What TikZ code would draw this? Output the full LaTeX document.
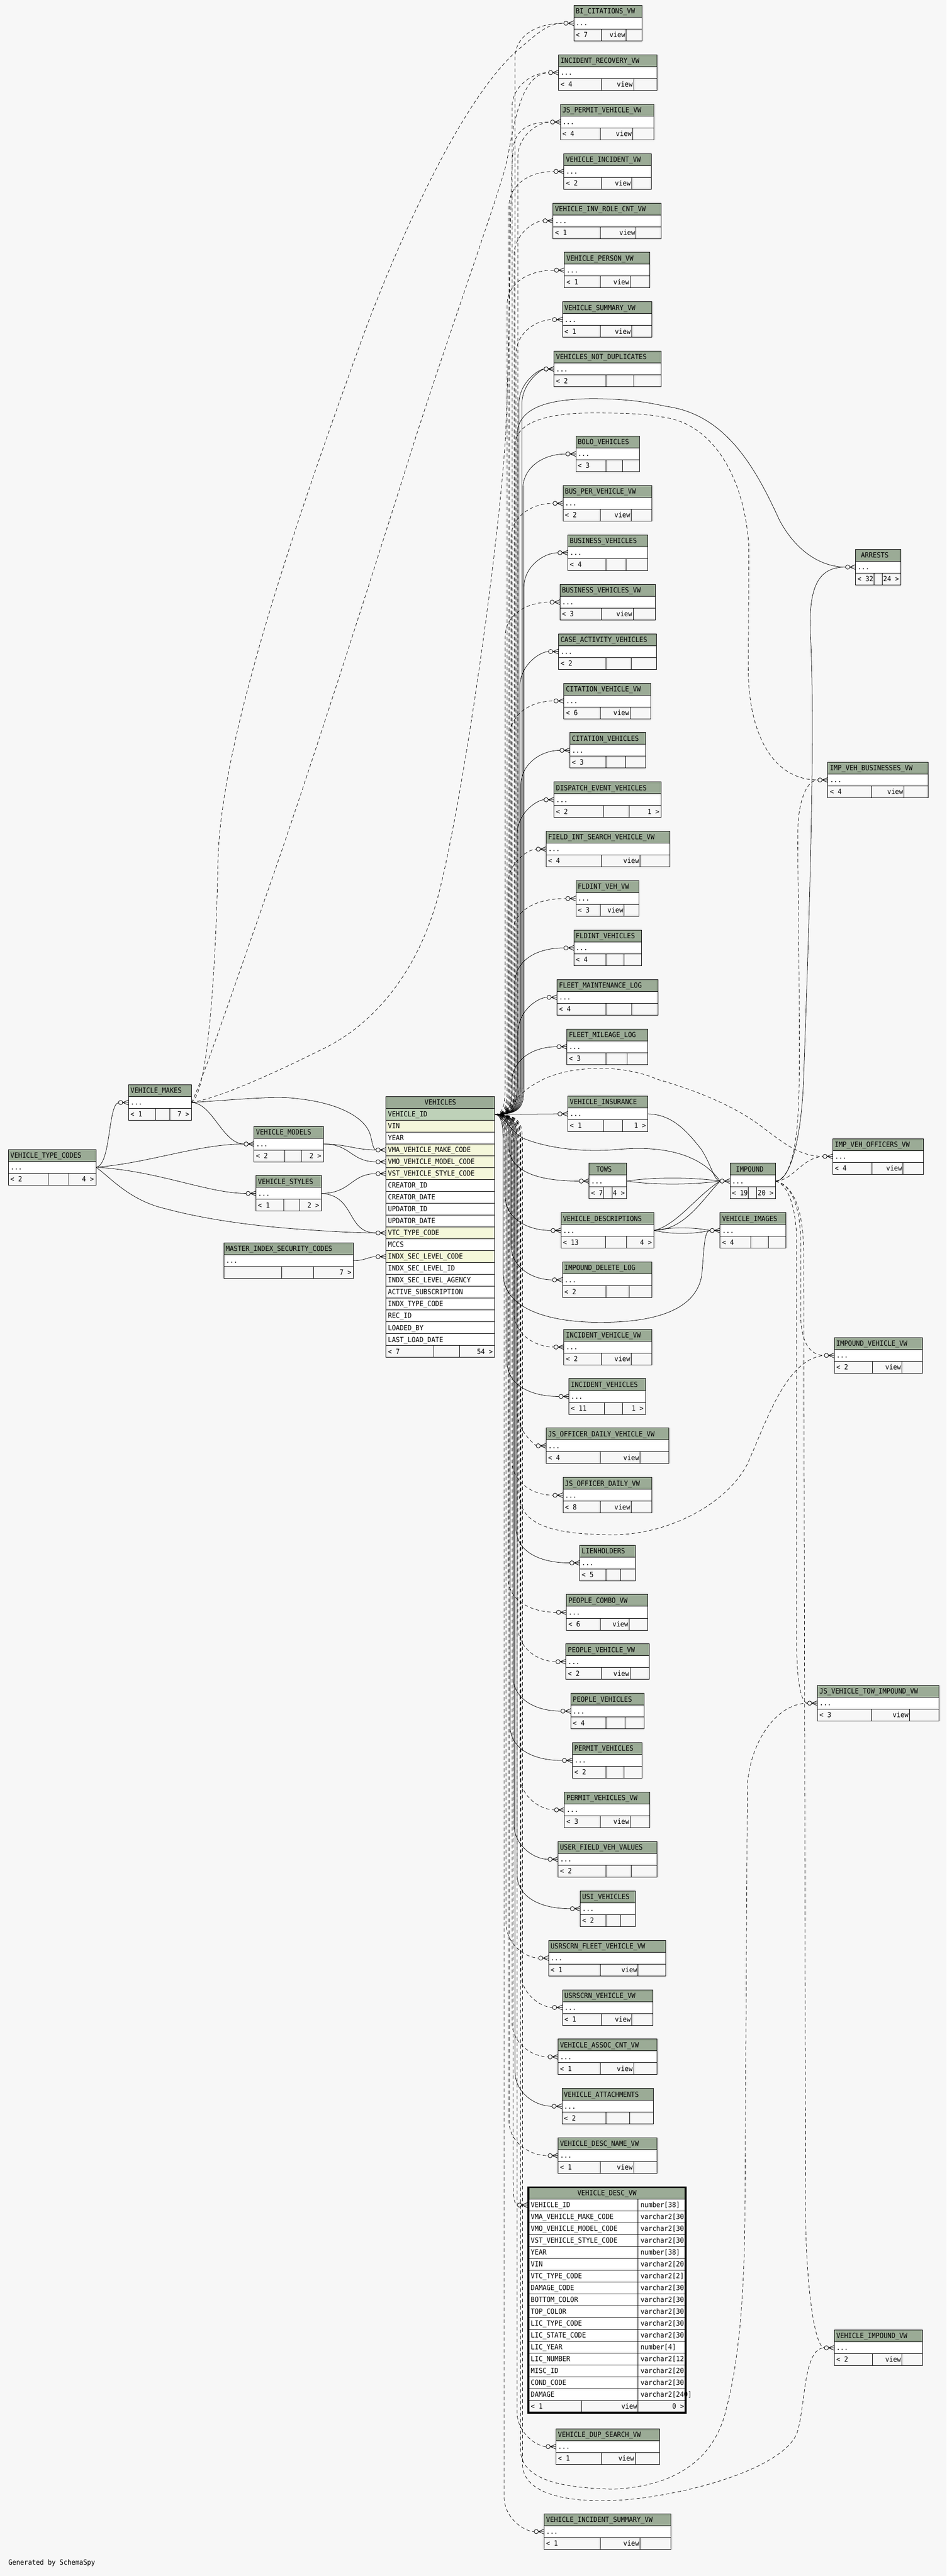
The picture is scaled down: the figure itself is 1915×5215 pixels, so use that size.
\documentclass[tikz,border=0pt]{standalone}
\usepackage{fontspec}
\newfontfamily\tfam[FakeStretch=0.92]{DejaVu Sans Mono}
\definecolor{bgc}{HTML}{F7F7F7}
\definecolor{hdrc}{HTML}{9BAB96}
\definecolor{pkc}{HTML}{BED1B8}
\definecolor{idxc}{HTML}{F4F7DA}
\pgfdeclarelayer{bg}
\pgfdeclarelayer{edges}
\pgfsetlayers{bg,edges,main}
\tikzset{
 tl/.style={draw=black,line width=1pt},
 txt/.style={anchor=base west,inner sep=0pt,outer sep=0pt,font=\tfam\fontsize{14.4}{16}\selectfont},
 fk/.style={line width=0.8pt},
 vw/.style={line width=0.8pt,dash pattern=on 7pt off 5pt},
 cfs/.style={line width=0.9pt,solid},
}
\newcommand\midtext{}
\newcommand\tblbase[9]{%
 \fill[hdrc] (#3,#4) rectangle (#5,#4+24);
 \fill[white] (#3,#4+24) rectangle (#5,#4+48);
 \draw[tl] (#3,#4) rectangle (#5,#4+72);
 \draw[tl] (#3,#4+24) -- (#5,#4+24) (#3,#4+48) -- (#5,#4+48) (#6,#4+48) -- (#6,#4+72) (#7,#4+48) -- (#7,#4+72);
 \node[txt] (#1-t) at (#3+4,#4+17) {#2};
 \node[txt] (#1-d) at (#3+4,#4+41) {...};
 \node[txt] (#1-l) at (#3+4,#4+65) {#8};
 \node[txt,anchor=base east] (#1-m) at (#7-2,#4+65) {\midtext};
 \node[txt,anchor=base east] (#1-r) at (#5-4,#4+65) {#9};
 \coordinate (#1-i) at (#3,#4+36);
 \coordinate (#1-e) at (#3-20,#4+36);
 \coordinate (#1-o) at (#5,#4+36);
 \expandafter\xdef\csname Y#1\endcsname{\the\numexpr#4+36\relax}%
}
\newcommand\tv[8]{\renewcommand\midtext{view}\tblbase{#1}{#2}{#3}{#4}{#5}{#6}{#7}{#8}{}}
\newcommand\tbt[9]{\renewcommand\midtext{}\tblbase{#1}{#2}{#3}{#4}{#5}{#6}{#7}{#8}{#9}}
\newcommand\cf[1]{%
 \draw[cfs,fill=bgc] ([xshift=-16pt]#1) circle (4.3pt);
 \draw[cfs] ([xshift=-11.7pt]#1) -- ([yshift=5pt]#1) ([xshift=-11.7pt]#1) -- (#1) ([xshift=-11.7pt]#1) -- ([yshift=-5pt]#1);}
\newcommand\Eu[3]{%
 \draw[#1] (veh-pk) .. controls (#2-6,2256) and (#2,2240) .. (#2,2200) -- (#2,\csname Y#3\endcsname+70) .. controls (#2,\csname Y#3\endcsname+28) and (#2+40,\csname Y#3\endcsname) .. (#3-e);
 \cf{#3-i}}
\newcommand\Ed[3]{%
 \draw[#1] (veh-pk) .. controls (#2-6,2256) and (#2,2272) .. (#2,2312) -- (#2,\csname Y#3\endcsname-70) .. controls (#2,\csname Y#3\endcsname-28) and (#2+40,\csname Y#3\endcsname) .. (#3-e);
 \cf{#3-i}}
\begin{document}
\begin{tikzpicture}[x=1pt,y=-1pt]
\useasboundingbox (0,0) rectangle (1915,5215);
\begin{pgfonlayer}{bg}\fill[bgc] (0,0) rectangle (1915,5215);\end{pgfonlayer}

% ---------- right column ----------
\tv{bic}{BI\_CITATIONS\_VW}{1161}{11}{1299}{1217}{1267}{< 7}
\tv{irv}{INCIDENT\_RECOVERY\_VW}{1130}{111}{1329}{1217}{1282}{< 4}
\tv{jsp}{JS\_PERMIT\_VEHICLE\_VW}{1134}{211}{1323}{1215}{1280}{< 4}
\tv{vinc}{VEHICLE\_INCIDENT\_VW}{1141}{311}{1318}{1217}{1278}{< 2}
\tv{virc}{VEHICLE\_INV\_ROLE\_CNT\_VW}{1119}{411}{1338}{1215}{1287}{< 1}
\tv{vper}{VEHICLE\_PERSON\_VW}{1142}{511}{1315}{1215}{1275}{< 1}
\tv{vsum}{VEHICLE\_SUMMARY\_VW}{1138}{611}{1319}{1215}{1278}{< 1}
\tbt{vnd}{VEHICLES\_NOT\_DUPLICATES}{1121}{711}{1338}{1226}{1282}{< 2}{}
\tbt{bolo}{BOLO\_VEHICLES}{1165}{883}{1294}{1226}{1259}{< 3}{}
\tv{bpv}{BUS\_PER\_VEHICLE\_VW}{1139}{983}{1319}{1215}{1277}{< 2}
\tbt{busv}{BUSINESS\_VEHICLES}{1149}{1083}{1310}{1226}{1267}{< 4}{}
\tv{busvw}{BUSINESS\_VEHICLES\_VW}{1133}{1183}{1326}{1217}{1281}{< 3}
\tbt{cav}{CASE\_ACTIVITY\_VEHICLES}{1130}{1283}{1328}{1226}{1277}{< 2}{}
\tv{cvw}{CITATION\_VEHICLE\_VW}{1141}{1383}{1317}{1215}{1275}{< 6}
\tbt{cv}{CITATION\_VEHICLES}{1153}{1483}{1306}{1226}{1266}{< 3}{}
\tbt{dev}{DISPATCH\_EVENT\_VEHICLES}{1121}{1583}{1338}{1221}{1273}{< 2}{1 >}
\tv{fis}{FIELD\_INT\_SEARCH\_VEHICLE\_VW}{1105}{1683}{1355}{1217}{1295}{< 4}
\tv{fvv}{FLDINT\_VEH\_VW}{1165}{1783}{1293}{1215}{1263}{< 3}
\tbt{fv}{FLDINT\_VEHICLES}{1161}{1883}{1298}{1226}{1262}{< 4}{}
\tbt{fml}{FLEET\_MAINTENANCE\_LOG}{1127}{1983}{1331}{1226}{1278}{< 4}{}
\tbt{fmil}{FLEET\_MILEAGE\_LOG}{1147}{2083}{1311}{1226}{1269}{< 3}{}
\tbt{vins}{VEHICLE\_INSURANCE}{1149}{2219}{1311}{1221}{1259}{< 1}{1 >}
\tbt{tows}{\kern10pt TOWS}{1192}{2355}{1268}{1221}{1239}{< 7}{4 >}
\tbt{vdesc}{VEHICLE\_DESCRIPTIONS}{1135}{2455}{1323}{1225}{1268}{< 13}{4 >}
\tbt{idl}{IMPOUND\_DELETE\_LOG}{1138}{2555}{1319}{1226}{1273}{< 2}{}
\tv{ivw}{INCIDENT\_VEHICLE\_VW}{1141}{2691}{1319}{1217}{1277}{< 2}
\tbt{iv}{INCIDENT\_VEHICLES}{1151}{2791}{1306}{1223}{1259}{< 11}{1 >}
\tv{jodv}{JS\_OFFICER\_DAILY\_VEHICLE\_VW}{1105}{2891}{1353}{1215}{1295}{< 4}
\tv{jod}{JS\_OFFICER\_DAILY\_VW}{1139}{2991}{1319}{1215}{1277}{< 8}
\tbt{lien}{LIENHOLDERS}{1173}{3128}{1285}{1226}{1255}{< 5}{}
\tv{pcv}{PEOPLE\_COMBO\_VW}{1146}{3228}{1311}{1215}{1273}{< 6}
\tv{pvv}{PEOPLE\_VEHICLE\_VW}{1145}{3328}{1314}{1217}{1275}{< 2}
\tbt{pv}{PEOPLE\_VEHICLES}{1155}{3428}{1303}{1226}{1265}{< 4}{}
\tbt{perv}{PERMIT\_VEHICLES}{1158}{3528}{1299}{1226}{1262}{< 2}{}
\tv{pervw}{PERMIT\_VEHICLES\_VW}{1142}{3628}{1315}{1215}{1275}{< 3}
\tbt{ufv}{USER\_FIELD\_VEH\_VALUES}{1129}{3728}{1329}{1226}{1277}{< 2}{}
\tbt{usi}{USI\_VEHICLES}{1174}{3828}{1285}{1226}{1255}{< 2}{}
\tv{usf}{USRSCRN\_FLEET\_VEHICLE\_VW}{1110}{3928}{1347}{1215}{1291}{< 1}
\tv{usv}{USRSCRN\_VEHICLE\_VW}{1138}{4028}{1321}{1217}{1278}{< 1}
\tv{vac}{VEHICLE\_ASSOC\_CNT\_VW}{1129}{4128}{1329}{1215}{1282}{< 1}
\tbt{vatt}{VEHICLE\_ATTACHMENTS}{1137}{4228}{1322}{1226}{1274}{< 2}{}
\tv{vdn}{VEHICLE\_DESC\_NAME\_VW}{1129}{4328}{1329}{1215}{1282}{< 1}
\tv{vds}{VEHICLE\_DUP\_SEARCH\_VW}{1125}{4917}{1335}{1217}{1285}{< 1}
\tv{vis}{VEHICLE\_INCIDENT\_SUMMARY\_VW}{1101}{5089}{1357}{1215}{1295}{< 1}
% ---------- far right ----------
\tbt{arr}{\kern7pt ARRESTS}{1731}{1112}{1823}{1768}{1785}{< 32}{24 >}
\tv{ivb}{IMP\_VEH\_BUSINESSES\_VW}{1675}{1543}{1878}{1763}{1829}{< 4}
\tv{ivo}{IMP\_VEH\_OFFICERS\_VW}{1685}{2305}{1869}{1764}{1827}{< 4}
\tbt{imp}{\kern8pt IMPOUND}{1477}{2355}{1569}{1514}{1531}{< 19}{20 >}
\tbt{vimg}{VEHICLE\_IMAGES}{1457}{2455}{1590}{1519}{1555}{< 4}{}
\tv{ivv}{IMPOUND\_VEHICLE\_VW}{1688}{2708}{1866}{1765}{1825}{< 2}
\tv{jst}{JS\_VEHICLE\_TOW\_IMPOUND\_VW}{1654}{3412}{1900}{1763}{1840}{< 3}
\tv{vimp}{VEHICLE\_IMPOUND\_VW}{1688}{4717}{1866}{1765}{1825}{< 2}
% ---------- left ----------
\tbt{vtc}{VEHICLE\_TYPE\_CODES}{17}{2327}{194}{97}{139}{< 2}{4 >}
\tbt{vmk}{VEHICLE\_MAKES}{260}{2196}{387}{314}{344}{< 1}{7 >}
\tbt{vmd}{VEHICLE\_MODELS}{514}{2280}{654}{576}{610}{< 2}{2 >}
\tbt{vst}{VEHICLE\_STYLES}{518}{2380}{650}{574}{606}{< 1}{2 >}
\tbt{misc}{MASTER\_INDEX\_SECURITY\_CODES}{453}{2516}{715}{570}{635}{}{7 >}

% ---------- VEHICLES ----------
\fill[hdrc] (781,2220) rectangle (1001,2244);
\node[txt,anchor=base] (veh-t) at (891,2237) {VEHICLES};
\foreach \a/\c [count=\i from 0] in {VEHICLE\_ID/pkc,VIN/idxc,YEAR/white,VMA\_VEHICLE\_MAKE\_CODE/idxc,VMO\_VEHICLE\_MODEL\_CODE/idxc,VST\_VEHICLE\_STYLE\_CODE/idxc,CREATOR\_ID/white,CREATOR\_DATE/white,UPDATOR\_ID/white,UPDATOR\_DATE/white,VTC\_TYPE\_CODE/idxc,MCCS/white,INDX\_SEC\_LEVEL\_CODE/idxc,INDX\_SEC\_LEVEL\_ID/white,INDX\_SEC\_LEVEL\_AGENCY/white,ACTIVE\_SUBSCRIPTION/white,INDX\_TYPE\_CODE/white,REC\_ID/white,LOADED\_BY/white,LAST\_LOAD\_DATE/white}{
 \pgfmathsetmacro\ya{2244+24*\i}
 \fill[\c] (781,\ya) rectangle (1001,\ya+24);
 \draw[tl] (781,\ya) -- (1001,\ya);
 \node[txt] (veh-r\i) at (785,\ya+17) {\a};
}
\draw[tl] (781,2724) -- (1001,2724) (878,2724) -- (878,2748) (930,2724) -- (930,2748);
\node[txt] (veh-l) at (785,2741) {< 7};
\node[txt,anchor=base east] (veh-r) at (997,2741) {54 >};
\draw[tl] (781,2220) rectangle (1001,2748);
\coordinate (veh-pk) at (1001,2256);
\coordinate (veh-vma-i) at (781,2328); \coordinate (veh-vma-e) at (761,2328);
\coordinate (veh-vmo-i) at (781,2352); \coordinate (veh-vmo-e) at (761,2352);
\coordinate (veh-vst-i) at (781,2376); \coordinate (veh-vst-e) at (761,2376);
\coordinate (veh-vtc-i) at (781,2496); \coordinate (veh-vtc-e) at (761,2496);
\coordinate (veh-isl-i) at (781,2544); \coordinate (veh-isl-e) at (761,2544);

% ---------- VEHICLE_DESC_VW ----------
\fill[hdrc] (1069,4428) rectangle (1387,4452);
\fill[white] (1069,4452) rectangle (1387,4860);
\node[txt,anchor=base] (vdvw-t) at (1228,4445) {VEHICLE\_DESC\_VW};
\foreach \a/\b [count=\i from 0] in {VEHICLE\_ID/number[38],VMA\_VEHICLE\_MAKE\_CODE/varchar2[30],VMO\_VEHICLE\_MODEL\_CODE/varchar2[30],VST\_VEHICLE\_STYLE\_CODE/varchar2[30],YEAR/number[38],VIN/varchar2[20],VTC\_TYPE\_CODE/varchar2[2],DAMAGE\_CODE/varchar2[30],BOTTOM\_COLOR/varchar2[30],TOP\_COLOR/varchar2[30],LIC\_TYPE\_CODE/varchar2[30],LIC\_STATE\_CODE/varchar2[30],LIC\_YEAR/number[4],LIC\_NUMBER/varchar2[12],MISC\_ID/varchar2[20],COND\_CODE/varchar2[30],DAMAGE/varchar2[240]}{
 \pgfmathsetmacro\ya{4452+24*\i}
 \draw[tl] (1069,\ya) -- (1387,\ya);
 \node[txt] (vd-n\i) at (1074,\ya+17) {\a};
 \node[txt] (vd-t\i) at (1296,\ya+17) {\b};
}
\draw[tl] (1069,4860) -- (1387,4860) (1291,4452) -- (1291,4884) (1177,4860) -- (1177,4884);
\node[txt] (vdvw-l) at (1074,4877) {< 1};
\node[txt,anchor=base east] (vdvw-m) at (1289,4877) {view};
\node[txt,anchor=base east] (vdvw-r) at (1384,4877) {0 >};
\draw[line width=4pt] (1069,4428) rectangle (1387,4884);
\coordinate (vdvw-i) at (1067,4464); \coordinate (vdvw-e) at (1047,4464);

\node[txt] (gen) at (17,5192) {Generated by SchemaSpy};

% ---------- edges ----------
\begin{pgfonlayer}{edges}
% VEHICLES bundle upward
\Eu{vw}{1042}{bic}
\Eu{vw}{1036}{irv}
\Eu{vw}{1048}{jsp}
\Eu{vw}{1030}{vinc}
\Eu{vw}{1040}{virc}
\Eu{vw}{1026}{vper}
\Eu{vw}{1044}{vsum}
\Eu{fk}{1050}{vnd}
\Eu{fk}{1056}{vnd}
\Eu{fk}{1058}{bolo}
\Eu{vw}{1034}{bpv}
\Eu{fk}{1060}{busv}
\Eu{vw}{1022}{busvw}
\Eu{fk}{1052}{cav}
\Eu{vw}{1032}{cvw}
\Eu{fk}{1054}{cv}
\Eu{fk}{1046}{dev}
\Eu{vw}{1028}{fis}
\Eu{vw}{1038}{fvv}
\Eu{fk}{1042}{fv}
\Eu{fk}{1048}{fml}
\Eu{fk}{1036}{fmil}
\draw[fk] (veh-pk) -- (vins-e); \cf{vins-i}
% VEHICLES bundle downward
\Ed{fk}{1030}{tows}
\Ed{fk}{1022}{vdesc}
\Ed{fk}{1034}{idl}
\Ed{vw}{1040}{ivw}
\Ed{fk}{1026}{iv}
\Ed{vw}{1046}{jodv}
\Ed{vw}{1036}{jod}
\Ed{fk}{1044}{lien}
\Ed{vw}{1028}{pcv}
\Ed{vw}{1048}{pvv}
\Ed{fk}{1038}{pv}
\Ed{fk}{1032}{perv}
\Ed{vw}{1052}{pervw}
\Ed{fk}{1040}{ufv}
\Ed{fk}{1046}{usi}
\Ed{vw}{1024}{usf}
\Ed{vw}{1054}{usv}
\Ed{vw}{1036}{vac}
\Ed{fk}{1042}{vatt}
\Ed{vw}{1030}{vdn}
\Ed{vw}{1046}{vds}
\Ed{vw}{1020}{vis}
\draw[vw] (veh-pk) .. controls (1032,2256) and (1038,2272) .. (1038,2312) -- (1038,4400) .. controls (1038,4445) and (1040,4464) .. (vdvw-e); \cf{vdvw-i}
% long VEHICLES edges
\draw[fk] (veh-pk) .. controls (1040,2256) and (1046,2230) .. (1046,2200) -- (1046,880) .. controls (1048,820) and (1120,808) .. (1200,807) .. controls (1280,808) and (1310,815) .. (1350,823) .. controls (1470,840) and (1530,950) .. (1577,1053) .. controls (1610,1115) and (1660,1148) .. (arr-e);
\draw[vw] (veh-pk) .. controls (1036,2256) and (1042,2230) .. (1042,2200) -- (1042,900) .. controls (1044,850) and (1120,836) .. (1200,836) .. controls (1290,836) and (1320,840) .. (1350,846) .. controls (1440,862) and (1505,960) .. (1515,1104) -- (1514,1363) .. controls (1516,1480) and (1560,1579) .. (ivb-e);
\draw[vw] (veh-pk) .. controls (1030,2256) and (1040,2215) .. (1090,2190) .. controls (1140,2160) and (1250,2150) .. (1330,2185) .. controls (1400,2205) and (1480,2235) .. (1540,2280) .. controls (1590,2318) and (1620,2341) .. (ivo-e);
\draw[vw] (veh-pk) .. controls (1040,2256) and (1050,2270) .. (1050,2310) -- (1050,3020) .. controls (1050,3085) and (1110,3105) .. (1230,3107) .. controls (1350,3110) and (1470,3045) .. (1512,2964) .. controls (1550,2880) and (1590,2750) .. (ivv-e);
\draw[vw] (veh-pk) .. controls (1045,2256) and (1053,2270) .. (1053,2310) -- (1053,4960) .. controls (1055,5025) and (1150,5037) .. (1240,5039) .. controls (1350,5035) and (1445,4990) .. (1470,4874) .. controls (1495,4780) and (1505,4650) .. (1507,4500) -- (1512,3620) .. controls (1515,3530) and (1570,3448) .. (jst-e);
\draw[vw] (veh-pk) .. controls (1048,2256) and (1057,2270) .. (1057,2310) -- (1057,4990) .. controls (1060,5050) and (1150,5070) .. (1273,5060) .. controls (1420,5045) and (1590,4990) .. (1613,4924) .. controls (1630,4870) and (1625,4753) .. (vimp-e);
\draw[fk] (veh-pk) .. controls (1012,2256) and (1018,2270) .. (1018,2310) -- (1018,2580) .. controls (1020,2650) and (1110,2677) .. (1215,2677) .. controls (1330,2677) and (1410,2650) .. (1420,2580) .. controls (1425,2520) and (1425,2491) .. (vimg-e);
\draw[fk] (veh-pk) .. controls (1025,2260) and (1030,2290) .. (1060,2305) .. controls (1110,2325) and (1180,2333) .. (1250,2327) .. controls (1350,2318) and (1420,2340) .. (imp-e);
% IMPOUND area
\draw[fk] (vins-o) .. controls (1360,2256) and (1390,2290) .. (1419,2327) .. controls (1440,2360) and (1445,2391) .. (imp-e);
\draw[fk] (tows-o) .. controls (1320,2383) and (1400,2383) .. (imp-e);
\draw[fk] (tows-o) .. controls (1320,2399) and (1400,2399) .. (imp-e);
\draw[fk] (vdesc-o) .. controls (1370,2480) and (1410,2420) .. (imp-e);
\draw[fk] (vdesc-o) .. controls (1385,2490) and (1420,2430) .. (imp-e);
\draw[fk] (vdesc-o) .. controls (1360,2484) and (1400,2484) .. (vimg-e);
\draw[fk] (vdesc-o) .. controls (1360,2499) and (1400,2499) .. (vimg-e);
\cf{imp-i} \cf{vimg-i}
\draw[fk] (imp-o) .. controls (1600,2391) and (1622,2300) .. (1626,2180) .. controls (1636,1900) and (1650,1500) .. (1640,1290) .. controls (1634,1180) and (1660,1148) .. (arr-e);
\draw[vw] (imp-o) .. controls (1605,2385) and (1616,2300) .. (1617,2180) .. controls (1618,1900) and (1612,1720) .. (1615,1660) .. controls (1620,1610) and (1635,1579) .. (ivb-e);
\draw[vw] (imp-o) .. controls (1605,2390) and (1620,2345) .. (ivo-e);
\draw[vw] (imp-o) .. controls (1605,2400) and (1620,2450) .. (1620,2520) -- (1620,2660) .. controls (1620,2720) and (1640,2744) .. (ivv-e);
\draw[vw] (imp-o) .. controls (1600,2400) and (1612,2460) .. (1612,2520) -- (1612,3330) .. controls (1612,3400) and (1620,3448) .. (jst-e);
\draw[vw] (imp-o) .. controls (1610,2400) and (1626,2460) .. (1626,2540) -- (1630,4500) .. controls (1633,4650) and (1650,4753) .. (vimp-e);
\cf{arr-i} \cf{ivb-i} \cf{ivo-i} \cf{ivv-i} \cf{jst-i} \cf{vimp-i}
% left side
\draw[fk] (vtc-o) .. controls (225,2360) and (218,2236) .. (vmk-e);
\draw[fk] (vtc-o) .. controls (300,2355) and (400,2316) .. (vmd-e);
\draw[fk] (vtc-o) .. controls (320,2370) and (420,2416) .. (vst-e);
\draw[fk] (vtc-o) .. controls (220,2380) and (260,2430) .. (335,2447) .. controls (420,2470) and (520,2482) .. (600,2488) .. controls (680,2494) and (730,2496) .. (veh-vtc-e);
\draw[fk] (vmk-o) .. controls (480,2226) and (560,2218) .. (600,2224) .. controls (680,2232) and (740,2260) .. (750,2300) .. controls (754,2318) and (756,2328) .. (veh-vma-e);
\draw[fk] (vmk-o) .. controls (430,2232) and (450,2316) .. (vmd-e);
\draw[fk] (vmd-o) .. controls (700,2316) and (720,2328) .. (veh-vma-e);
\draw[fk] (vmd-o) .. controls (710,2316) and (710,2352) .. (veh-vmo-e);
\draw[fk] (vst-o) .. controls (710,2416) and (710,2376) .. (veh-vst-e);
\draw[fk] (vst-o) .. controls (720,2420) and (700,2496) .. (veh-vtc-e);
\draw[fk] (misc-o) .. controls (740,2552) and (745,2544) .. (veh-isl-e);
\cf{vmk-i} \cf{vmd-i} \cf{vst-i} \cf{veh-vma-i} \cf{veh-vmo-i} \cf{veh-vst-i} \cf{veh-vtc-i} \cf{veh-isl-i}
\draw[vw] (vmk-o) .. controls (425,2212) and (438,1900) .. (441,1746) .. controls (445,1500) and (600,1050) .. (742,660) .. controls (830,430) and (950,180) .. (1055,95) .. controls (1090,65) and (1110,47) .. (bic-e);
\draw[vw] (vmk-o) .. controls (400,2215) and (480,1980) .. (557,1760) .. controls (640,1520) and (780,1080) .. (838,895) .. controls (900,700) and (1000,420) .. (1023,337) .. controls (1040,260) and (1050,150) .. (irv-e);
\draw[vw] (vmk-o) .. controls (450,2222) and (580,2160) .. (646,2127) .. controls (760,2075) and (850,1960) .. (889,1804) .. controls (940,1600) and (1010,1100) .. (1023,880) .. controls (1035,600) and (1030,350) .. (1040,290) .. controls (1050,255) and (1080,247) .. (jsp-e);
\end{pgfonlayer}
\end{tikzpicture}
\end{document}
